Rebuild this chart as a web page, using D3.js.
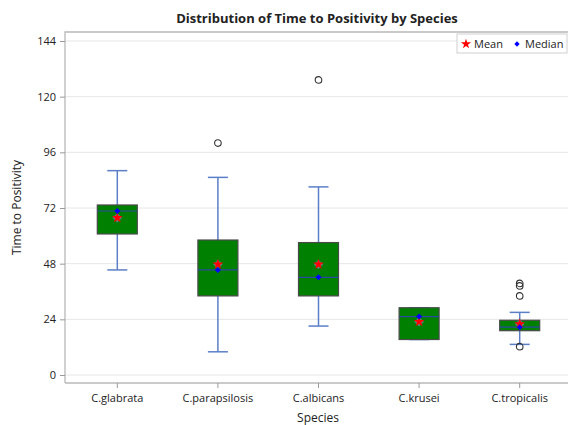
<!DOCTYPE html>
<html>
<head>
<meta charset="utf-8">
<script src="https://cdn.jsdelivr.net/npm/d3@7"></script>
<style>
  body { margin: 0; background: #fff; }
  svg text { font-family: "Open Sans", "Noto Sans", sans-serif; fill: #222; }
</style>
</head>
<body>
<div id="chart"></div>
<script>
// box plot data (hours)
var species = ["C.glabrata", "C.parapsilosis", "C.albicans", "C.krusei", "C.tropicalis"];
var whiskerLow = [45.3, 10.0, 21.1, 15.3, 13.2];
var q1 = [60.8, 34.1, 34.1, 15.3, 19.1];
var medians = [70.7, 45.3, 42.1, 25.2, 20.6];
var q3 = [73.3, 58.2, 57.1, 29.0, 23.6];
var whiskerHigh = [88.1, 85.2, 81.1, 29.0, 27.0];
var means = [67.8, 47.7, 47.7, 23.0, 22.0];
var outliers = [[], [100.0], [127.2], [], [39.5, 38.4, 34.1, 12.2]];
var yTicks = [0, 24, 48, 72, 96, 120, 144];

var w = 568, h = 425;
var plotLeft = 65, plotRight = 568, plotTop = 32, plotBottom = 383;

var svg = d3.select("#chart").append("svg")
    .attr("width", w)
    .attr("height", h);

var xScale = d3.scaleBand()
    .domain(species)
    .range([plotLeft + 2, plotRight + 2])
    .paddingInner(0)
    .paddingOuter(0);

var yScale = d3.scaleLinear()
    .domain([0, 144])
    .range([375, 41]);

// grid lines
svg.append("g")
    .selectAll("line")
    .data(yTicks)
    .enter()
    .append("line")
    .attr("x1", plotLeft)
    .attr("x2", plotRight)
    .attr("y1", function(d) { return yScale(d); })
    .attr("y2", function(d) { return yScale(d); })
    .attr("stroke", "#e6e6e6")
    .attr("stroke-width", 1);

// frame
svg.append("path")
    .attr("d", "M" + plotLeft + "," + plotBottom + "V" + plotTop + "H" + plotRight)
    .attr("fill", "none")
    .attr("stroke", "#b8b8b8")
    .attr("stroke-width", 1.3);

// axes
var yAxis = d3.axisLeft(yScale).tickValues(yTicks).tickSize(5).tickPadding(4);
var gy = svg.append("g")
    .attr("transform", "translate(" + plotLeft + ",0)")
    .call(yAxis);
gy.select(".domain").remove();
gy.selectAll("line").attr("stroke", "#999");
gy.selectAll("text").style("font-size", "11px").attr("fill", "#222");

var xAxis = d3.axisBottom(xScale).tickSize(5).tickPadding(6);
var gx = svg.append("g")
    .attr("transform", "translate(0," + plotBottom + ")")
    .call(xAxis);
gx.select(".domain").attr("stroke", "#b8b8b8").attr("stroke-width", 1.3)
    .attr("d", "M" + plotLeft + ",0H" + plotRight);
gx.selectAll("line").attr("stroke", "#999");
gx.selectAll("text").style("font-size", "11px").attr("fill", "#222");

// boxes
var bw = 40;
var boxes = svg.append("g")
    .selectAll("g")
    .data(species)
    .enter()
    .append("g")
    .attr("transform", function(d) {
        return "translate(" + (xScale(d) + xScale.bandwidth() / 2) + ",0)";
    });

var whiskerColor = "#5b7fc7";

boxes.append("line")
    .attr("x1", 0).attr("x2", 0)
    .attr("y1", function(d, i) { return yScale(whiskerHigh[i]); })
    .attr("y2", function(d, i) { return yScale(q3[i]); })
    .attr("stroke", whiskerColor).attr("stroke-width", 1.5);
boxes.append("line")
    .attr("x1", 0).attr("x2", 0)
    .attr("y1", function(d, i) { return yScale(q1[i]); })
    .attr("y2", function(d, i) { return yScale(whiskerLow[i]); })
    .attr("stroke", whiskerColor).attr("stroke-width", 1.5);
boxes.append("line")
    .attr("x1", -10).attr("x2", 10)
    .attr("y1", function(d, i) { return yScale(whiskerHigh[i]); })
    .attr("y2", function(d, i) { return yScale(whiskerHigh[i]); })
    .attr("stroke", whiskerColor).attr("stroke-width", 1.5);
boxes.append("line")
    .attr("x1", -10).attr("x2", 10)
    .attr("y1", function(d, i) { return yScale(whiskerLow[i]); })
    .attr("y2", function(d, i) { return yScale(whiskerLow[i]); })
    .attr("stroke", whiskerColor).attr("stroke-width", 1.5);

boxes.append("rect")
    .attr("x", -bw / 2)
    .attr("width", bw)
    .attr("y", function(d, i) { return yScale(q3[i]); })
    .attr("height", function(d, i) { return yScale(q1[i]) - yScale(q3[i]); })
    .attr("fill", "#008000")
    .attr("stroke", "#4a4a4a")
    .attr("stroke-width", 1.2);

boxes.append("line")
    .attr("x1", -bw / 2).attr("x2", bw / 2)
    .attr("y1", function(d, i) { return yScale(medians[i]); })
    .attr("y2", function(d, i) { return yScale(medians[i]); })
    .attr("stroke", "#2a4aa0").attr("stroke-width", 1.2);

// outliers
boxes.selectAll("circle")
    .data(function(d, i) { return outliers[i]; })
    .enter()
    .append("circle")
    .attr("cx", 0)
    .attr("cy", function(d) { return yScale(d); })
    .attr("r", 3.3)
    .attr("fill", "none")
    .attr("stroke", "#333")
    .attr("stroke-width", 1.1);

// mean markers (red star on grey diamond)
var square = d3.symbol().type(d3.symbolSquare);
var star = d3.symbol().type(d3.symbolStar);
boxes.append("path")
    .attr("d", square.size(44)())
    .attr("transform", function(d, i) { return "translate(0," + yScale(means[i]) + ") rotate(45)"; })
    .attr("fill", "#7a7f9a")
    .attr("opacity", 0.85);
boxes.append("path")
    .attr("d", star.size(36)())
    .attr("transform", function(d, i) { return "translate(0," + yScale(means[i]) + ")"; })
    .attr("fill", "#ff0000");

// median markers
boxes.append("path")
    .attr("d", square.size(18)())
    .attr("transform", function(d, i) { return "translate(0," + yScale(medians[i]) + ") rotate(45)"; })
    .attr("fill", "#0000ff");

// title and labels
svg.append("text")
    .attr("x", 317).attr("y", 23)
    .attr("text-anchor", "middle")
    .style("font-size", "13px")
    .style("font-weight", "bold")
    .text("Distribution of Time to Positivity by Species");

svg.append("text")
    .attr("transform", "translate(21," + ((plotTop + plotBottom) / 2) + ") rotate(-90)")
    .attr("text-anchor", "middle")
    .style("font-size", "12px")
    .text("Time to Positivity");

svg.append("text")
    .attr("x", 318).attr("y", 422)
    .attr("text-anchor", "middle")
    .style("font-size", "12px")
    .text("Species");

// legend
var lg = svg.append("g").attr("transform", "translate(457,34)");
lg.append("rect")
    .attr("width", 110).attr("height", 19)
    .attr("fill", "#fff")
    .attr("stroke", "#d0d0d0");
lg.append("path")
    .attr("d", star.size(32)())
    .attr("transform", "translate(9,10)")
    .attr("fill", "#ff0000");
lg.append("text").attr("x", 17).attr("y", 14).style("font-size", "11px").text("Mean");
lg.append("path")
    .attr("d", square.size(14)())
    .attr("transform", "translate(60,10) rotate(45)")
    .attr("fill", "#0000ff");
lg.append("text").attr("x", 68).attr("y", 14).style("font-size", "11px").text("Median");
</script>
</body>
</html>
